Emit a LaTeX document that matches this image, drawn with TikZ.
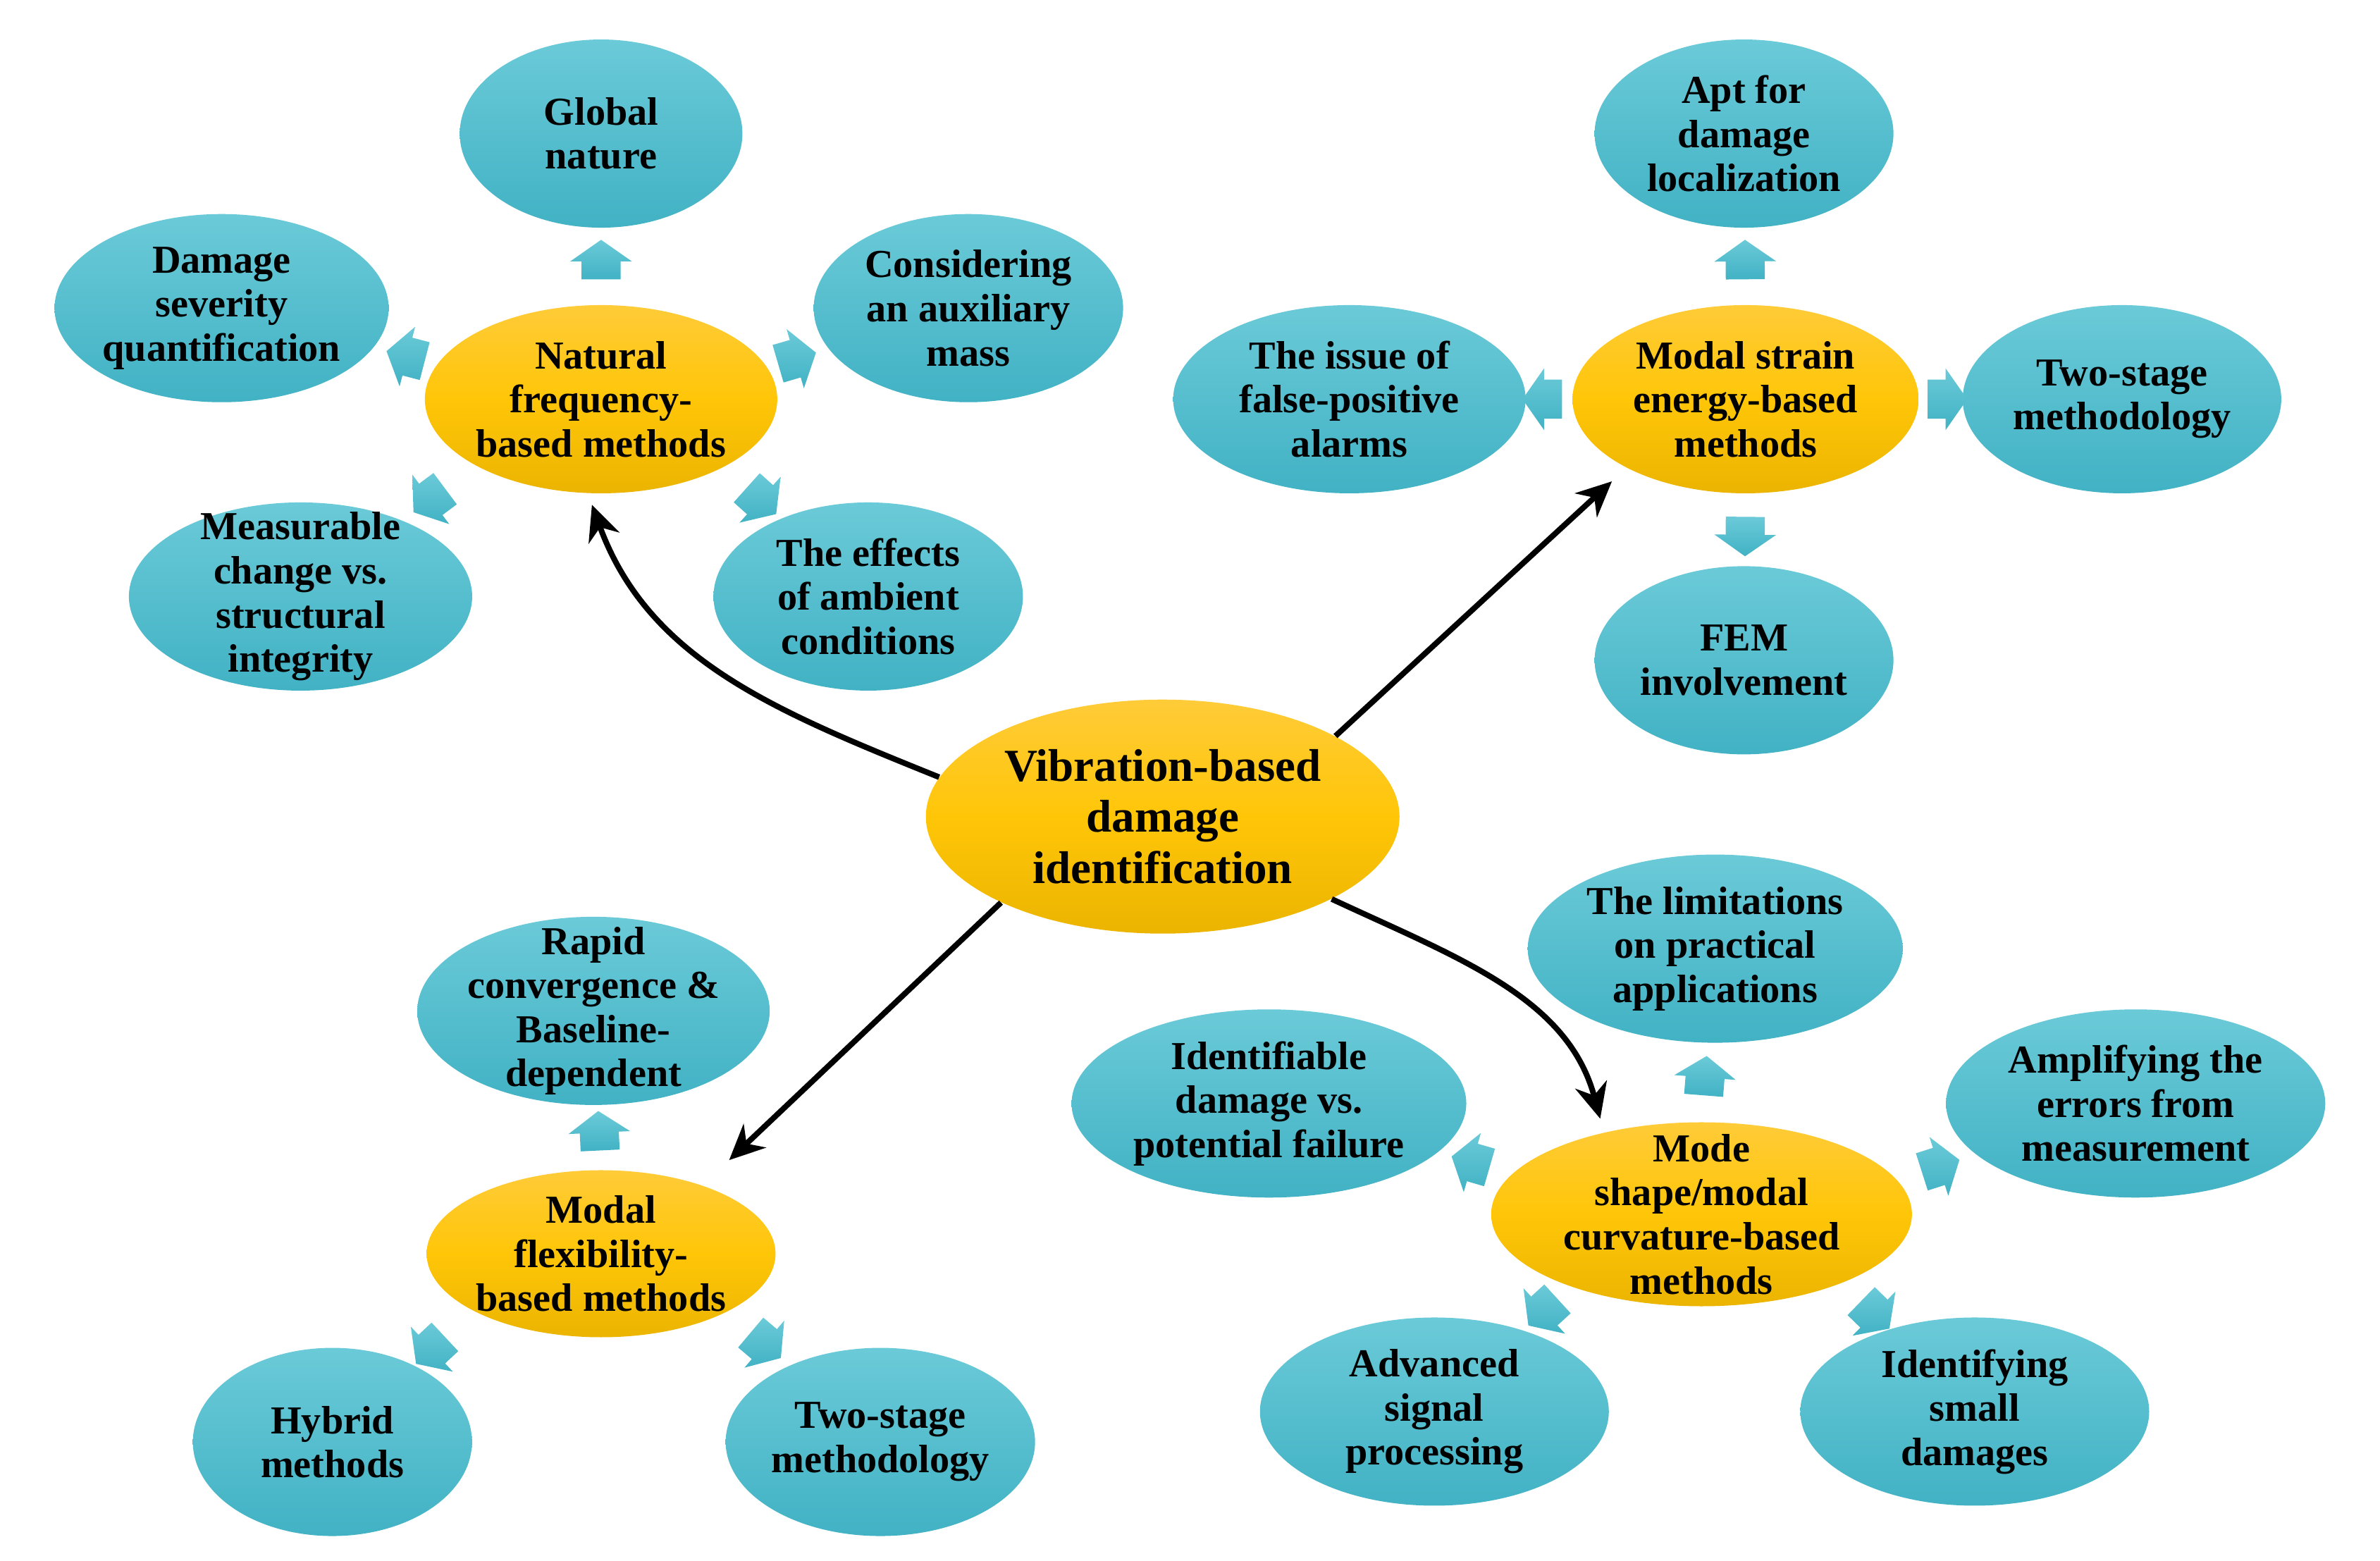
\documentclass[tikz,border=0pt]{standalone}
\usepackage{fontspec}
\setmainfont{Liberation Serif}
\usetikzlibrary{shapes.geometric,shapes.arrows,arrows.meta}
\definecolor{tealTop}{HTML}{6BCAD8}
\definecolor{tealBot}{HTML}{41B2C4}
\definecolor{yelTop}{HTML}{FFCB38}
\definecolor{yelMid}{HTML}{FFC608}
\definecolor{yelBot}{HTML}{EBB400}

\begin{document}
\begin{tikzpicture}[x=0.21537mm, y=-0.21537mm,
    hub/.style={ellipse, inner xsep=-2mm, inner ysep=-3mm, align=center,
        font=\bfseries\fontsize{16}{17.8}\selectfont, minimum height=26.7mm,
        top color=yelTop, bottom color=yelBot, middle color=yelMid},
    leaf/.style={ellipse, inner xsep=-2mm, inner ysep=-3mm, align=center,
        font=\bfseries\fontsize{16}{17.8}\selectfont, minimum height=26.7mm,
        top color=tealTop, bottom color=tealBot},
    barrow/.style={single arrow, inner xsep=0pt, inner ysep=2.7mm, minimum height=5.6mm,
        single arrow head extend=1.6mm, single arrow tip angle=110,
        allow upside down, top color=tealTop, bottom color=tealBot},
    link/.style={line width=0.8mm, -{Stealth[length=5mm, width=4.6mm, inset=1.6mm]}}]
    \useasboundingbox (0,0) rectangle (1568,1028);

    % Centre
    \node[hub, minimum width=67.2mm, minimum height=33.2mm, font=\bfseries\fontsize{18.5}{20.5}\selectfont]
        (cen) at (766,538) {Vibration-based\\damage\\identification};

    % Methods
    \node[hub, minimum width=50mm] (nat) at (396,263) {Natural\\frequency-\\based methods};
    \node[hub, minimum width=49.1mm] (mse) at (1150,263) {Modal strain\\energy-based\\methods};
    \node[hub, minimum width=49.5mm, minimum height=23.7mm] (flx) at (396,826) {Modal\\flexibility-\\based methods};
    \node[hub, minimum width=59.7mm, minimum height=26.1mm] (mod) at (1121,800) {Mode\\shape/modal\\curvature-based\\methods};

    % Natural frequency
    \node[leaf, minimum width=40.1mm] (glob) at (396,88) {Global\\nature};
    \node[leaf, minimum width=47.4mm] (sev) at (146,203) {Damage\\severity\\quantification};
    \node[leaf, minimum width=43.9mm] (aux) at (638,203) {Considering\\an auxiliary\\mass};
    \node[leaf, minimum width=48.7mm] (meas) at (198,393) {Measurable\\change vs.\\structural\\integrity};
    \node[leaf, minimum width=43.9mm] (amb) at (572,393) {The effects\\of ambient\\conditions};

    % Modal strain energy
    \node[leaf, minimum width=42.4mm] (apt) at (1149,88) {Apt for\\damage\\localization};
    \node[leaf, minimum width=50mm] (fals) at (889,263) {The issue of\\false-positive\\alarms};
    \node[leaf, minimum width=45.2mm] (tsa) at (1398,263) {Two-stage\\methodology};
    \node[leaf, minimum width=42.4mm] (fem) at (1149,435) {FEM\\involvement};

    % Modal flexibility
    \node[leaf, minimum width=50mm] (rap) at (391,666) {Rapid\\convergence \&\\Baseline-\\dependent};
    \node[leaf, minimum width=39.6mm] (hyb) at (219,950) {Hybrid\\methods};
    \node[leaf, minimum width=43.9mm] (tsb) at (580,950) {Two-stage\\methodology};

    % Mode shape
    \node[leaf, minimum width=53.2mm] (lim) at (1130,625) {The limitations\\on practical\\applications};
    \node[leaf, minimum width=56mm] (idf) at (836,727) {Identifiable\\damage vs.\\potential failure};
    \node[leaf, minimum width=53.8mm] (amp) at (1407,727) {Amplifying the\\errors from\\measurement};
    \node[leaf, minimum width=49.5mm] (adv) at (945,930) {Advanced\\signal\\processing};
    \node[leaf, minimum width=49.5mm] (sml) at (1301,930) {Identifying\\small\\damages};

    % Block arrows
    \foreach \h/\a/\t/\p in {nat/90/glob/0.5, nat/168/sev/0.39, nat/11/aux/0.38, nat/208/meas/0.56,
        nat/-29/amb/0.57, mse/90/apt/0.5, mse/180/fals/0.5, mse/0/tsa/0.5, mse/-90/fem/0.5,
        flx/90/rap/0.5, flx/204/hyb/0.64, flx/-25/tsb/0.54, mod/90/lim/0.5, mod/168/idf/0.47,
        mod/10/amp/0.47, mod/209/adv/0.48, mod/-26/sml/0.59}
        \path (\h.\a) -- (\t) node[barrow, sloped, pos=\p] {};

    % Links
    \draw[link, shorten >=1.7mm] (cen.170) to[out=158, in=-70] (nat.-98);
    \draw[link, shorten >=2.8mm] (cen.25) -- (mse.210);
    \draw[link, shorten >=5.2mm] (cen.208) -- (flx.34);
    \draw[link, shorten >=2mm] (cen.-26) to[out=-25, in=105] (mod.140);
\end{tikzpicture}
\end{document}
